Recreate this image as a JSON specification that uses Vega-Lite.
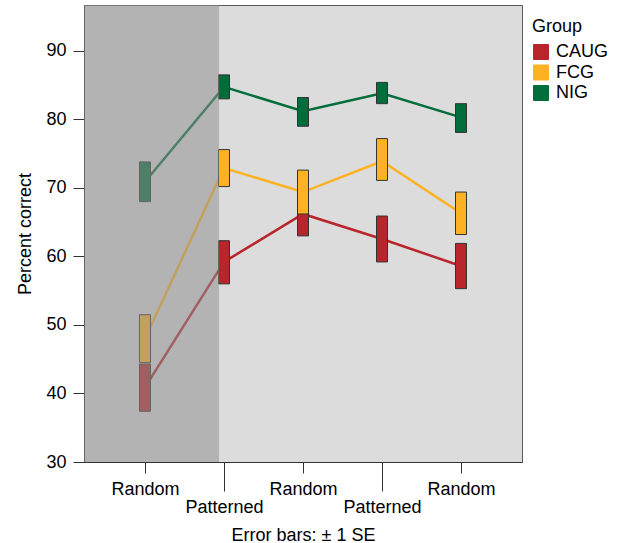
{
  "$schema": "https://vega.github.io/schema/vega-lite/v6.json",
  "width": 438,
  "height": 457,
  "autosize": {"type": "none"},
  "padding": {"left": 84, "top": 5, "right": 98, "bottom": 81},
  "background": "white",
  "config": {
    "font": "Liberation Sans",
    "view": {"fill": "#dcdcdc", "stroke": "#5a5a5a", "strokeWidth": 1},
    "axis": {
      "labelFontSize": 18,
      "titleFontSize": 18,
      "titleFontWeight": "normal",
      "labelColor": "black",
      "titleColor": "black",
      "domainColor": "#333333",
      "tickColor": "#333333",
      "grid": false
    },
    "legend": {
      "orient": "right",
      "offset": -3,
      "padding": 13,
      "titleFontSize": 18,
      "titleFontWeight": "normal",
      "titleColor": "black",
      "labelFontSize": 18,
      "labelColor": "black",
      "symbolType": "square",
      "symbolSize": 225,
      "symbolStrokeColor": "#333333",
      "symbolStrokeWidth": 1,
      "symbolOpacity": 1,
      "rowPadding": 0.5,
      "titlePadding": 7,
      "labelOffset": 6
    }
  },
  "datasets": {
    "stats": [
      {"group": "CAUG", "cond": 1, "mean": 40.9, "lo": 37.4, "hi": 44.3},
      {"group": "CAUG", "cond": 2, "mean": 59.2, "lo": 56.0, "hi": 62.3},
      {"group": "CAUG", "cond": 3, "mean": 66.2, "lo": 63.0, "hi": 69.4},
      {"group": "CAUG", "cond": 4, "mean": 62.55, "lo": 59.2, "hi": 65.9},
      {"group": "CAUG", "cond": 5, "mean": 58.6, "lo": 55.3, "hi": 61.9},
      {"group": "FCG", "cond": 1, "mean": 48.0, "lo": 44.5, "hi": 51.5},
      {"group": "FCG", "cond": 2, "mean": 72.9, "lo": 70.2, "hi": 75.6},
      {"group": "FCG", "cond": 3, "mean": 69.4, "lo": 66.2, "hi": 72.6},
      {"group": "FCG", "cond": 4, "mean": 73.9, "lo": 71.1, "hi": 77.2},
      {"group": "FCG", "cond": 5, "mean": 66.3, "lo": 63.2, "hi": 69.4},
      {"group": "NIG", "cond": 1, "mean": 70.9, "lo": 68.0, "hi": 73.8},
      {"group": "NIG", "cond": 2, "mean": 84.75, "lo": 83.0, "hi": 86.5},
      {"group": "NIG", "cond": 3, "mean": 81.2, "lo": 79.0, "hi": 83.2},
      {"group": "NIG", "cond": 4, "mean": 83.8, "lo": 82.3, "hi": 85.4},
      {"group": "NIG", "cond": 5, "mean": 80.3, "lo": 78.1, "hi": 82.3}
    ],
    "shade": [{"x1": 0.228, "x2": 1.937, "y1": 30, "y2": 96.7}]
  },
  "layer": [
    {
      "data": {"name": "stats"},
      "mark": {"type": "line", "strokeWidth": 2.5},
      "encoding": {
        "x": {
          "field": "cond",
          "type": "quantitative",
          "title": "Error bars: ± 1 SE",
          "scale": {"domain": [0.228, 5.772], "nice": false, "zero": false, "padding": 0},
          "axis": {
            "values": [1, 2, 3, 4, 5],
            "labelExpr": "datum.value % 2 == 0 ? 'Patterned' : 'Random'",
            "tickSize": {"condition": {"test": "datum.value % 2 == 0", "value": 29}, "value": 11},
            "labelPadding": 7,
            "titlePadding": 10,
            "labelFlush": false,
            "labelOverlap": false
          }
        },
        "y": {
          "field": "mean",
          "type": "quantitative",
          "title": "Percent correct",
          "scale": {"domain": [30, 96.7], "nice": false, "zero": false, "padding": 0},
          "axis": {"values": [30, 40, 50, 60, 70, 80, 90], "tickSize": 11, "labelPadding": 7, "titlePadding": 11}
        },
        "color": {
          "field": "group",
          "type": "nominal",
          "title": "Group",
          "scale": {"domain": ["CAUG", "FCG", "NIG"], "range": ["#b8252a", "#fdb224", "#006d3a"]}
        },
        "detail": {"field": "group"}
      }
    },
    {
      "data": {"name": "stats"},
      "mark": {"type": "bar", "width": 11, "stroke": "#333333", "strokeWidth": 1, "opacity": 1},
      "encoding": {
        "x": {"field": "cond", "type": "quantitative", "title": "Error bars: ± 1 SE"},
        "y": {"field": "lo", "type": "quantitative", "title": "Percent correct"},
        "y2": {"field": "hi"},
        "color": {"field": "group", "type": "nominal", "title": "Group"}
      }
    },
    {
      "data": {"name": "shade"},
      "mark": {"type": "rect", "color": "#909090", "opacity": 0.54},
      "encoding": {
        "x": {"field": "x1", "type": "quantitative", "title": "Error bars: ± 1 SE"},
        "x2": {"field": "x2"},
        "y": {"field": "y1", "type": "quantitative", "title": "Percent correct"},
        "y2": {"field": "y2"}
      }
    }
  ]
}
